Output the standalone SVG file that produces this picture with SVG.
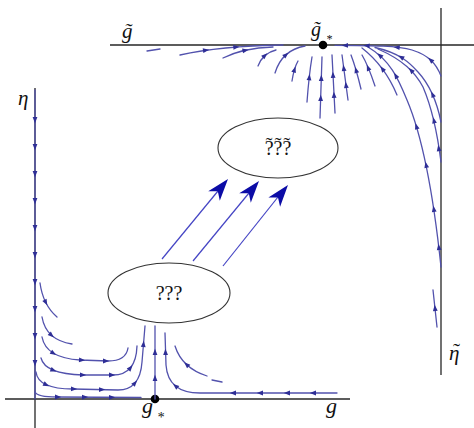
<svg xmlns="http://www.w3.org/2000/svg" width="474" height="428" viewBox="0 0 474 428">
<defs>
<path id="h" d="M3.2,0 L-3,-2.4 L-3,2.4 z"/>
<path id="H" d="M0,0 L-22,-7.5 L-16,0 L-22,7.5 z"/>
</defs>
<style>
.ax{stroke:#262626;stroke-width:1.3;fill:none}
.sl{stroke:#5252ad;stroke-width:1.3;fill:none;stroke-linecap:round}
.hd{fill:#2e2e96}
.node ellipse{fill:#fff;stroke:#333;stroke-width:1.1}
.node text{font-family:"Liberation Serif",serif;font-size:20px;fill:#111}
.lbl{font-family:"Liberation Serif",serif;font-style:italic;fill:#111}
.big{stroke:#4444c4;stroke-width:1.2;fill:none}
.bh{fill:#0c0ca6}
</style>
<rect width="474" height="428" fill="#fff"/>

<g id="axes">
<line class="ax" x1="5" y1="399" x2="350" y2="399"/>
<line class="ax" x1="35" y1="88" x2="35" y2="428"/>
<line class="ax" x1="110" y1="45" x2="474" y2="45"/>
<line class="ax" x1="441" y1="8" x2="441" y2="375"/>
<circle cx="155" cy="399" r="4.3" fill="#000"/>
<circle cx="323" cy="45" r="4.3" fill="#000"/>
</g>

<g id="flow-lower">
<path class="sl" stroke="#43439a" d="M35,90 L35,399"/>
<path class="sl" d="M40,283 Q43,305 57,317"/>
<path class="sl" d="M42,317 Q46,340 72,344"/>
<path class="sl" d="M42,337 Q46,358 80,360 L108,361 Q126,361 128,348"/>
<path class="sl" d="M41,358 Q45,374 83,375 L113,375 Q136,375 137,346"/>
<path class="sl" d="M36,372 Q38,389 73,389 L118,390 Q140,390 142,362 L145,326"/>
<path class="sl" d="M35,392 Q37,397 57,397 L141,397.5"/>
<path class="sl" d="M155,399 L155,326"/>
<path class="sl" d="M337,393 L200,393 Q168,393 166,365 L165,333"/>
<path class="sl" d="M207,376 Q182,368 175,346"/>
<path class="sl" d="M212,380 L222,382"/>
<g class="hd">
<use href="#h" transform="translate(35,120) rotate(90)"/>
<use href="#h" transform="translate(35,147) rotate(90)"/>
<use href="#h" transform="translate(35,174) rotate(90)"/>
<use href="#h" transform="translate(35,201) rotate(90)"/>
<use href="#h" transform="translate(35,228) rotate(90)"/>
<use href="#h" transform="translate(35,255) rotate(90)"/>
<use href="#h" transform="translate(35,282) rotate(90)"/>
<use href="#h" transform="translate(35,309) rotate(90)"/>
<use href="#h" transform="translate(35,336) rotate(90)"/>
<use href="#h" transform="translate(35,363) rotate(90)"/>
<use href="#h" transform="translate(45.8,302.5) rotate(63)"/>
<use href="#h" transform="translate(51.5,335.3) rotate(42)"/>
<use href="#h" transform="translate(53.5,353.3) rotate(31)"/>
<use href="#h" transform="translate(82,360.1) rotate(3)"/>
<use href="#h" transform="translate(106,361) rotate(0)"/>
<use href="#h" transform="translate(53.5,370.3) rotate(22)"/>
<use href="#h" transform="translate(83,375) rotate(1)"/>
<use href="#h" transform="translate(112,375) rotate(0)"/>
<use href="#h" transform="translate(130.5,367.8) rotate(-50)"/>
<use href="#h" transform="translate(46.3,384.8) rotate(25)"/>
<use href="#h" transform="translate(74,389) rotate(1)"/>
<use href="#h" transform="translate(102,389.6) rotate(0)"/>
<use href="#h" transform="translate(135,383) rotate(-49)"/>
<use href="#h" transform="translate(143.5,344) rotate(-85)"/>
<use href="#h" transform="translate(58,397) rotate(0)"/>
<use href="#h" transform="translate(85,397.1) rotate(0)"/>
<use href="#h" transform="translate(112,397.3) rotate(0)"/>
<use href="#h" transform="translate(155,378) rotate(-90)"/>
<use href="#h" transform="translate(155,352) rotate(-90)"/>
<use href="#h" transform="translate(313,393) rotate(180)"/>
<use href="#h" transform="translate(287,393) rotate(180)"/>
<use href="#h" transform="translate(260,393) rotate(180)"/>
<use href="#h" transform="translate(233,393) rotate(180)"/>
<use href="#h" transform="translate(175.5,386) rotate(-140)"/>
<use href="#h" transform="translate(165.5,352) rotate(-92)"/>
<use href="#h" transform="translate(186.5,364.5) rotate(-137)"/>
</g>
</g>

<g id="flow-upper">
<path class="sl" d="M147,51 L160,49"/>
<path class="sl" d="M180,55 Q220,46 283,45"/>
<path class="sl" d="M223,58 Q243,48 273,47"/>
<path class="sl" d="M258,66 Q263,53 276,50"/>
<path class="sl" d="M275,73 Q282,50 305,46"/>
<path class="sl" d="M292,81 Q294,68 298,61"/>
<path class="sl" d="M307,102 Q309,75 312,57"/>
<path class="sl" d="M320,118 L322,57"/>
<path class="sl" d="M335,113 L332,55"/>
<path class="sl" d="M348,100 L342,55"/>
<path class="sl" d="M361,89 Q356,68 351,55"/>
<path class="sl" d="M375,86 Q368,65 362,55"/>
<path class="sl" d="M397,95 Q385,66 362,48"/>
<path class="sl" d="M441,267 C434,200 424,140 407,100 C398,78 390,60 368,47"/>
<path class="sl" d="M441,162 C437,130 432,108 423,87 C415,72 403,60 378,49"/>
<path class="sl" d="M441,122 C437,102 430,85 418,72 C410,63 400,53 375,47.5"/>
<path class="sl" d="M441,76 C436,63 428,55 412,50 C398,46 375,45.5 335,45.3"/>
<path class="sl" d="M433,290 L437,327"/>
<g class="hd">
<use href="#h" transform="translate(206,50.3) rotate(-8)"/>
<use href="#h" transform="translate(236.3,47.1) rotate(-4.5)"/>
<use href="#h" transform="translate(245.5,50.3) rotate(-12)"/>
<use href="#h" transform="translate(265,55.5) rotate(-42)"/>
<use href="#h" transform="translate(286,54.8) rotate(-42)"/>
<use href="#h" transform="translate(294.5,69.5) rotate(-73)"/>
<use href="#h" transform="translate(309.3,77.3) rotate(-84)"/>
<use href="#h" transform="translate(320.7,98) rotate(-88)"/>
<use href="#h" transform="translate(321.3,78) rotate(-88)"/>
<use href="#h" transform="translate(334,95) rotate(-93)"/>
<use href="#h" transform="translate(333,75) rotate(-93)"/>
<use href="#h" transform="translate(346,85) rotate(-98)"/>
<use href="#h" transform="translate(343.7,68) rotate(-98)"/>
<use href="#h" transform="translate(356,70) rotate(-106)"/>
<use href="#h" transform="translate(368,67.8) rotate(-113)"/>
<use href="#h" transform="translate(382.3,68.8) rotate(-127)"/>
<use href="#h" transform="translate(438.8,247.1) rotate(-97)"/>
<use href="#h" transform="translate(433.8,209) rotate(-98.5)"/>
<use href="#h" transform="translate(426.1,164.9) rotate(-102)"/>
<use href="#h" transform="translate(416.4,126.3) rotate(-107)"/>
<use href="#h" transform="translate(395.7,75.6) rotate(-120)"/>
<use href="#h" transform="translate(379.7,55.4) rotate(-139)"/>
<use href="#h" transform="translate(438.7,148.2) rotate(-99)"/>
<use href="#h" transform="translate(433.9,120.4) rotate(-103)"/>
<use href="#h" transform="translate(411,70.3) rotate(-134)"/>
<use href="#h" transform="translate(432.5,94.4) rotate(-114)"/>
<use href="#h" transform="translate(401,57.1) rotate(-149)"/>
<use href="#h" transform="translate(430.6,60) rotate(-137)"/>
<use href="#h" transform="translate(396.7,47.3) rotate(-174)"/>
<use href="#h" transform="translate(366.6,45.7) rotate(-178)"/>
<use href="#h" transform="translate(345,45.4) rotate(180)"/>
<use href="#h" transform="translate(435,308) rotate(-96)"/>
</g>
</g>

<g id="connectors">
<line class="big" x1="162" y1="259" x2="218" y2="191"/>
<line class="big" x1="193" y1="261" x2="249" y2="193"/>
<line class="big" x1="223" y1="266" x2="278" y2="197"/>
<g class="bh">
<use href="#H" transform="translate(228,179) rotate(-50.5)"/>
<use href="#H" transform="translate(259,181) rotate(-50.5)"/>
<use href="#H" transform="translate(288,185) rotate(-51.3)"/>
</g>
</g>

<g id="node-lower" class="node">
<ellipse cx="169" cy="293" rx="61" ry="30"/>
<text x="169" y="300" text-anchor="middle">???</text>
</g>
<g id="node-upper" class="node">
<ellipse cx="278" cy="148" rx="60" ry="30"/>
<text x="264.7" y="155">?<tspan dx="-7.8" dy="-3">˜</tspan><tspan dx="1.1" dy="3">?</tspan><tspan dx="-7.8" dy="-3">˜</tspan><tspan dx="1.1" dy="3">?</tspan><tspan dx="-7.8" dy="-3">˜</tspan></text>
</g>

<g id="labels">
<text class="lbl" x="18" y="105" font-size="21">η</text>
<text class="lbl" x="142" y="413" font-size="22">g</text>
<text class="lbl" x="157" y="422" font-size="14" font-style="normal">*</text>
<text class="lbl" x="326" y="413" font-size="22">g</text>
<text class="lbl" x="122" y="38" font-size="21">g̃</text>
<text class="lbl" x="311" y="36" font-size="20">g̃</text>
<text class="lbl" x="326" y="43" font-size="12" font-style="normal">*</text>
<text class="lbl" x="449" y="360" font-size="21">η<tspan dx="-6.5" dy="-2" font-style="normal">˜</tspan></text>
</g>
</svg>
